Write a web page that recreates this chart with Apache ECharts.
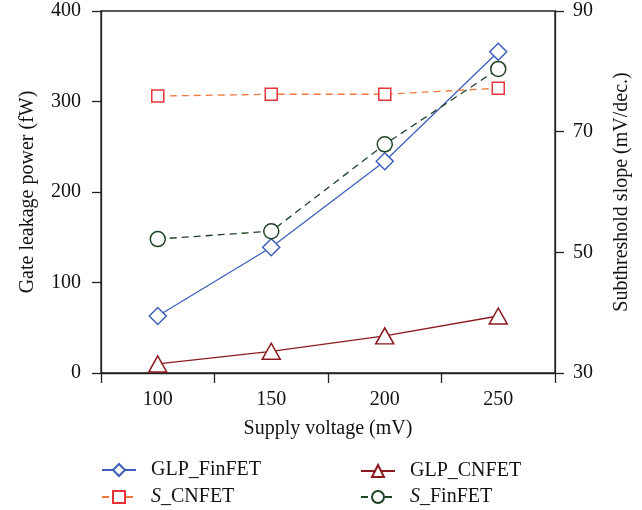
<!DOCTYPE html>
<html>
<head>
<meta charset="utf-8">
<script src="https://cdn.jsdelivr.net/npm/echarts@6/dist/echarts.min.js"></script>
<style>
html,body{margin:0;padding:0;background:#fff;}
#chart{width:642px;height:510px;}
</style>
</head>
<body>
<div id="chart"></div>
<script>
var categories = ['100', '150', '200', '250'];
var glpFinFET = [63, 139, 234, 355];
var glpCNFET = [10, 24, 41, 63];
var sCNFET = [75.9, 76.2, 76.2, 77.2];
var sFinFET = [52.2, 53.5, 67.9, 80.4];
var leftTicks = {min: 0, max: 400, interval: 100};
var rightTicks = {min: 30, max: 90, interval: 20};

var FONT = '"Liberation Serif", "DejaVu Serif", serif';
var FS = 20;
var AX = '#222';
var chart = echarts.init(document.getElementById('chart'), null, {renderer: 'canvas'});

var richText = {
  i: {fontStyle: 'italic', fontFamily: FONT, fontSize: FS, color: '#111', lineHeight: 20},
  n: {fontFamily: FONT, fontSize: FS, color: '#111', lineHeight: 20}
};
function legendFmt(name) {
  if (name.indexOf('S_') === 0) return '{i|S}{n|' + name.slice(1) + '}';
  return '{n|' + name + '}';
}
function mkLegend(name, left, top) {
  return {
    data: [name],
    left: left,
    top: top,
    padding: 0,
    itemWidth: 34,
    itemHeight: 15,
    formatter: legendFmt,
    textStyle: {fontFamily: FONT, fontSize: FS, color: '#111', padding: [0, 0, 0, 10], rich: richText}
  };
}

chart.setOption({
  animation: false,
  backgroundColor: '#fff',
  grid: {left: 101, right: 87, top: 11, bottom: 137, show: true, borderColor: AX, borderWidth: 1.3, backgroundColor: 'transparent'},
  legend: [
    mkLegend('GLP_FinFET', 101, 460),
    mkLegend('S_CNFET', 101, 487),
    mkLegend('GLP_CNFET', 360, 461),
    mkLegend('S_FinFET', 360, 487)
  ],
  xAxis: {
    type: 'category',
    data: categories,
    boundaryGap: true,
    name: 'Supply voltage (mV)',
    nameLocation: 'middle',
    nameGap: 46,
    nameTextStyle: {fontFamily: FONT, fontSize: FS, color: '#111'},
    axisLine: {lineStyle: {color: AX, width: 1.3}},
    axisTick: {show: true, inside: false, length: 10, lineStyle: {color: AX, width: 1.3}},
    axisLabel: {fontFamily: FONT, fontSize: FS, color: '#111', margin: 17},
    splitLine: {show: false}
  },
  yAxis: [
    {
      type: 'value',
      position: 'left',
      min: leftTicks.min, max: leftTicks.max, interval: leftTicks.interval,
      name: 'Gate leakage power (fW)',
      nameLocation: 'middle',
      nameGap: 63,
      nameTextStyle: {fontFamily: FONT, fontSize: FS, color: '#111'},
      axisLine: {show: true, lineStyle: {color: AX, width: 1.3}},
      axisTick: {show: true, inside: false, length: 9, lineStyle: {color: AX, width: 1.3}},
      axisLabel: {fontFamily: FONT, fontSize: FS, color: '#111', margin: 20},
      splitLine: {show: false}
    },
    {
      type: 'value',
      position: 'right',
      min: rightTicks.min, max: rightTicks.max, interval: rightTicks.interval,
      name: 'Subthreshold slope (mV/dec.)',
      nameLocation: 'middle',
      nameGap: 57,
      nameTextStyle: {fontFamily: FONT, fontSize: FS, color: '#111'},
      axisLine: {show: true, lineStyle: {color: AX, width: 1.3}},
      axisTick: {show: true, inside: false, length: 9, lineStyle: {color: AX, width: 1.3}},
      axisLabel: {fontFamily: FONT, fontSize: FS, color: '#111', margin: 18},
      splitLine: {show: false}
    }
  ],
  series: [
    {
      name: 'GLP_FinFET', type: 'line', yAxisIndex: 0, data: glpFinFET,
      symbol: 'diamond', symbolSize: [17, 17],
      lineStyle: {color: '#3f5fbd', width: 1.3},
      itemStyle: {color: '#fff', borderColor: '#3f5fbd', borderWidth: 1.5}
    },
    {
      name: 'GLP_CNFET', type: 'line', yAxisIndex: 0, data: glpCNFET,
      symbol: 'triangle', symbolSize: [18, 16],
      lineStyle: {color: '#8b1a1e', width: 1.3},
      itemStyle: {color: '#fff', borderColor: '#8b1a1e', borderWidth: 1.5}
    },
    {
      name: 'S_CNFET', type: 'line', yAxisIndex: 1, data: sCNFET,
      symbol: 'rect', symbolSize: 12,
      lineStyle: {color: '#f07a3a', width: 1.3, type: [7, 5]},
      itemStyle: {color: '#fff', borderColor: '#e8323a', borderWidth: 1.5}
    },
    {
      name: 'S_FinFET', type: 'line', yAxisIndex: 1, data: sFinFET,
      symbol: 'circle', symbolSize: 15,
      lineStyle: {color: '#1e4226', width: 1.3, type: [7, 5]},
      itemStyle: {color: '#fff', borderColor: '#1e4226', borderWidth: 1.5}
    }
  ]
});
</script>
</body>
</html>
